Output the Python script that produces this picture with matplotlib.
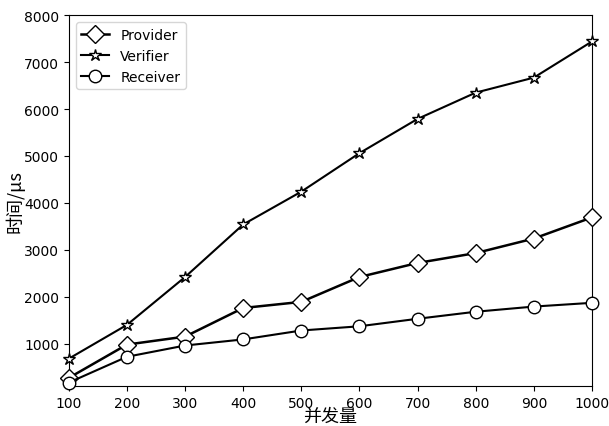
import matplotlib.pyplot as plt

plt.rcParams['font.family'] = ['DejaVu Sans', 'Noto Sans CJK SC']

concurrency = [100, 200, 300, 400, 500, 600, 700, 800, 900, 1000]
provider = [270, 980, 1150, 1760, 1890, 2420, 2720, 2930, 3240, 3690]
verifier = [680, 1400, 2420, 3540, 4240, 5060, 5790, 6350, 6670, 7440]
receiver = [170, 720, 960, 1090, 1280, 1370, 1530, 1680, 1790, 1870]

fig, ax = plt.subplots(figsize=(6.09, 4.27), dpi=100)
fig.subplots_adjust(left=0.113, right=0.972, top=0.962, bottom=0.094)

ax.plot(concurrency, provider, color='black', linewidth=1.8, marker='D',
        markersize=9, markerfacecolor='white', markeredgecolor='black',
        label='Provider', clip_on=False, zorder=3)
ax.plot(concurrency, verifier, color='black', linewidth=1.5, marker='*',
        markersize=9, markerfacecolor='white', markeredgecolor='black',
        label='Verifier', clip_on=False, zorder=3)
ax.plot(concurrency, receiver, color='black', linewidth=1.5, marker='o',
        markersize=9, markerfacecolor='white', markeredgecolor='black',
        label='Receiver', clip_on=False, zorder=3)

ax.set_xlim(100, 1000)
ax.set_ylim(100, 8000)
ax.set_xticks(concurrency)
ax.set_yticks([1000, 2000, 3000, 4000, 5000, 6000, 7000, 8000])
ax.tick_params(labelsize=10)

ax.set_xlabel('并发量', fontsize=13, family=['Noto Sans CJK SC', 'DejaVu Sans'],
              labelpad=-2)
ax.set_ylabel('时间/μs', fontsize=13, family=['Noto Sans CJK SC', 'DejaVu Sans'])
ax.yaxis.set_label_coords(-0.085, 0.5)

ax.legend(loc='upper left', fontsize=10)

plt.savefig('out.png')
